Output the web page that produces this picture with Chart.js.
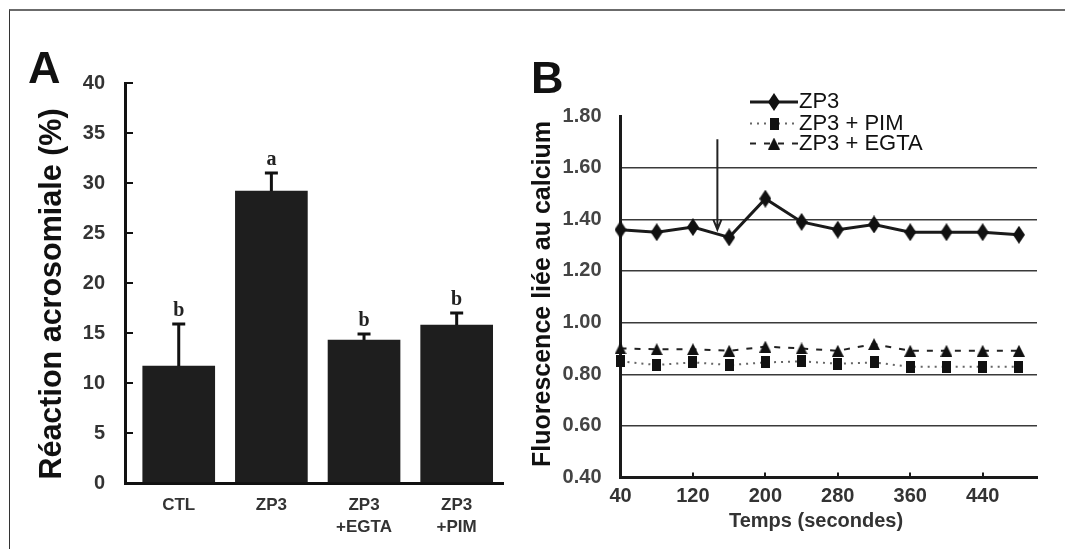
<!DOCTYPE html>
<html>
<head>
<meta charset="utf-8">
<script src="https://cdn.jsdelivr.net/npm/chart.js@4.4.1/dist/chart.umd.min.js"></script>
<style>
  html, body { margin: 0; padding: 0; background: #fff; }
  body { width: 1065px; height: 549px; position: relative; overflow: hidden; }
  #frame { position: absolute; left: 9px; top: 9px; width: 1100px; height: 600px;
           border-top: 2px solid #6b6b6b; border-left: 1px solid #333; }
  canvas { position: absolute; top: 0; }
  #chartA { left: 0; }
  #chartB { left: 520px; }
</style>
</head>
<body>
<div id="frame"></div>
<canvas id="chartA" width="520" height="549"></canvas>
<canvas id="chartB" width="545" height="549"></canvas>
<script>
// Panel A - acrosome reaction
const categories = [['CTL'], ['ZP3'], ['ZP3', '+EGTA'], ['ZP3', '+PIM']];
const reactionMeans = [11.7, 29.2, 14.3, 15.8];
const reactionErrors = [4.2, 1.8, 0.6, 1.2];
const significance = ['b', 'a', 'b', 'b'];

// Panel B - calcium fluorescence
const times = [40, 80, 120, 160, 200, 240, 280, 320, 360, 400, 440, 480];
const zp3 = [1.36, 1.35, 1.37, 1.33, 1.48, 1.39, 1.36, 1.38, 1.35, 1.35, 1.35, 1.34];
const zp3Pim = [0.85, 0.836, 0.846, 0.836, 0.846, 0.85, 0.841, 0.846, 0.829, 0.829, 0.829, 0.829];
const zp3Egta = [0.90, 0.897, 0.897, 0.891, 0.907, 0.90, 0.891, 0.917, 0.891, 0.891, 0.891, 0.891];
const timeTicks = [40, 120, 200, 280, 360, 440];
const arrowTime = 147;
const arrowFrom = 1.71;
const arrowTo = 1.36;

const FONT = "'Liberation Sans', Arial, sans-serif";
Chart.defaults.font.family = FONT;

function makeMarker(w, h, shape) {
    const c = document.createElement('canvas');
    c.width = w;
    c.height = h;
    const g = c.getContext('2d');
    g.fillStyle = '#111';
    g.beginPath();
    shape(g, w, h);
    g.fill();
    return c;
}
const diamond = makeMarker(12, 18, (g, w, h) => {
    g.moveTo(w / 2, 0); g.lineTo(w, h / 2); g.lineTo(w / 2, h); g.lineTo(0, h / 2); g.closePath();
});
const square = makeMarker(9, 12, (g, w, h) => g.rect(0, 0, w, h));
const triangle = makeMarker(12, 12, (g, w, h) => {
    g.moveTo(w / 2, 0); g.lineTo(w, h); g.lineTo(0, h); g.closePath();
});

// panel letter + rotated y title (+ optional x title)
const panelText = {
    id: 'panelText',
    afterDraw(chart, args, o) {
        const ctx = chart.ctx;
        ctx.save();
        ctx.fillStyle = '#111';
        ctx.textBaseline = 'alphabetic';
        ctx.textAlign = 'left';
        ctx.font = `bold 45px ${FONT}`;
        ctx.fillText(o.letter, o.letterX, o.letterY);
        if (o.xTitle) {
            ctx.font = `bold 20px ${FONT}`;
            ctx.fillStyle = '#333';
            ctx.textAlign = 'center';
            ctx.textBaseline = 'middle';
            ctx.fillText(o.xTitle, o.xTitleX, o.xTitleY);
        }
        ctx.fillStyle = '#111';
        ctx.textAlign = 'center';
        ctx.textBaseline = 'alphabetic';
        ctx.translate(o.titleX, o.titleY);
        ctx.rotate(-Math.PI / 2);
        ctx.font = `bold ${o.titleSize}px ${FONT}`;
        ctx.fillText(o.title, 0, 0);
        ctx.restore();
    }
};

const errorBars = {
    id: 'errorBars',
    afterDatasetsDraw(chart) {
        const { ctx, scales: { x, y } } = chart;
        ctx.save();
        ctx.strokeStyle = '#111';
        ctx.lineWidth = 3;
        ctx.fillStyle = '#222';
        ctx.font = "bold 20px 'Liberation Serif', 'Times New Roman', serif";
        ctx.textAlign = 'center';
        ctx.textBaseline = 'alphabetic';
        reactionMeans.forEach((m, i) => {
            const px = x.getPixelForValue(i);
            const base = y.getPixelForValue(m);
            const top = y.getPixelForValue(m + reactionErrors[i]);
            ctx.beginPath();
            ctx.moveTo(px, base);
            ctx.lineTo(px, top);
            ctx.moveTo(px - 6.5, top);
            ctx.lineTo(px + 6.5, top);
            ctx.stroke();
            ctx.fillText(significance[i], px, top - 8);
        });
        ctx.restore();
    }
};

new Chart(document.getElementById('chartA'), {
    type: 'bar',
    data: {
        datasets: [{
            data: reactionMeans.map((v, i) => ({ x: i, y: v })),
            backgroundColor: '#1e1e1e',
            borderWidth: 0,
            barThickness: 72
        }]
    },
    options: {
        responsive: false,
        animation: false,
        layout: { padding: { top: 83, right: 17, left: 0, bottom: 0 } },
        plugins: {
            legend: { display: false },
            tooltip: { enabled: false },
            panelText: {
                letter: 'A', letterX: 28, letterY: 83,
                title: 'Réaction acrosomiale (%)', titleSize: 30.5, titleX: 61, titleY: 294
            }
        },
        scales: {
            x: {
                type: 'linear',
                offset: false,
                min: -0.58,
                max: 3.5,
                afterBuildTicks: s => { s.ticks = categories.map((c, i) => ({ value: i })); },
                afterFit: s => { s.height = 66; },
                ticks: {
                    callback: (v, i) => categories[i],
                    color: '#333',
                    padding: 4,
                    maxRotation: 0,
                    autoSkip: false,
                    font: { size: 17, weight: 'bold', lineHeight: 1.25 }
                },
                grid: { display: false, offset: false },
                border: { display: true, width: 3, color: '#111' }
            },
            y: {
                min: 0,
                max: 40,
                afterFit: s => { s.width = 125; },
                ticks: {
                    stepSize: 5,
                    color: '#333',
                    padding: 28,
                    font: { size: 20, weight: 'bold' }
                },
                grid: { display: true, drawOnChartArea: false, tickLength: -8, color: '#111', lineWidth: 2 },
                border: { display: true, width: 3, color: '#111' }
            }
        }
    },
    plugins: [errorBars, panelText]
});

const seriesLegend = {
    id: 'seriesLegend',
    afterDraw(chart, args, o) {
        const ctx = chart.ctx;
        ctx.save();
        ctx.font = `22px ${FONT}`;
        ctx.textBaseline = 'middle';
        ctx.textAlign = 'left';
        chart.data.datasets.forEach((ds, i) => {
            const y = o.rows[i];
            ctx.strokeStyle = ds.borderColor;
            ctx.lineWidth = ds.borderWidth;
            ctx.setLineDash(ds.borderDash || []);
            ctx.beginPath();
            ctx.moveTo(o.x0, y);
            ctx.lineTo(o.x1, y);
            ctx.stroke();
            const m = ds.pointStyle;
            ctx.drawImage(m, (o.x0 + o.x1) / 2 - m.width / 2, y - m.height / 2);
            ctx.fillStyle = '#111';
            ctx.fillText(ds.label, o.x1 + 1, y);
        });
        ctx.restore();
    }
};

const arrowMark = {
    id: 'arrowMark',
    afterDatasetsDraw(chart) {
        const { ctx, scales: { x, y } } = chart;
        const px = x.getPixelForValue(arrowTime);
        const y1 = y.getPixelForValue(arrowFrom);
        const y2 = y.getPixelForValue(arrowTo);
        ctx.save();
        ctx.strokeStyle = '#222';
        ctx.lineWidth = 2;
        ctx.beginPath();
        ctx.moveTo(px, y1);
        ctx.lineTo(px, y2);
        ctx.moveTo(px - 4, y2 - 10);
        ctx.lineTo(px, y2);
        ctx.lineTo(px + 4, y2 - 10);
        ctx.stroke();
        ctx.restore();
    }
};

function series(values) {
    return times.map((t, i) => ({ x: t, y: values[i] }));
}

new Chart(document.getElementById('chartB'), {
    type: 'line',
    data: {
        datasets: [
            { label: 'ZP3', data: series(zp3), borderColor: '#1a1a1a', borderWidth: 3,
              pointStyle: diamond, clip: false, tension: 0 },
            { label: 'ZP3 + PIM', data: series(zp3Pim), borderColor: '#666', borderWidth: 2,
              borderDash: [2, 5], pointStyle: square, clip: false, tension: 0 },
            { label: 'ZP3 + EGTA', data: series(zp3Egta), borderColor: '#222', borderWidth: 2,
              borderDash: [6, 8], pointStyle: triangle, clip: false, tension: 0 }
        ]
    },
    options: {
        responsive: false,
        animation: false,
        layout: { padding: { top: 116, right: 28, left: 0, bottom: 0 } },
        plugins: {
            legend: { display: false },
            tooltip: { enabled: false },
            seriesLegend: { x0: 230, x1: 278, rows: [102, 123.5, 143.5] },
            panelText: {
                letter: 'B', letterX: 11, letterY: 93,
                title: 'Fluorescence liée au calcium', titleSize: 25, titleX: 30, titleY: 294,
                xTitle: 'Temps (secondes)', xTitleX: 296, xTitleY: 521
            }
        },
        scales: {
            x: {
                type: 'linear',
                min: 40,
                max: 500,
                afterBuildTicks: s => { s.ticks = times.map(v => ({ value: v })); },
                afterFit: s => { s.height = 71.4; },
                ticks: {
                    callback: v => (timeTicks.includes(v) ? String(v) : null),
                    color: '#333',
                    padding: 12,
                    maxRotation: 0,
                    autoSkip: false,
                    font: { size: 20, weight: 'bold' }
                },
                grid: { display: true, drawOnChartArea: false, tickLength: -5, color: '#1a1a1a', lineWidth: 2 },
                border: { display: true, width: 3, color: '#1a1a1a' }
            },
            y: {
                min: 0.4,
                max: 1.8,
                afterFit: s => { s.width = 100.5; },
                ticks: {
                    stepSize: 0.2,
                    callback: v => v.toFixed(2),
                    color: '#444',
                    padding: 19,
                    font: { size: 20, weight: 'bold' }
                },
                grid: {
                    drawTicks: false,
                    lineWidth: 1.5,
                    color: c => (c.tick && c.tick.value > 0.5 && c.tick.value < 1.7) ? '#3a3a3a' : 'rgba(0,0,0,0)'
                },
                border: { display: true, width: 3, color: '#1a1a1a' }
            }
        }
    },
    plugins: [arrowMark, seriesLegend, panelText]
});
</script>
</body>
</html>
